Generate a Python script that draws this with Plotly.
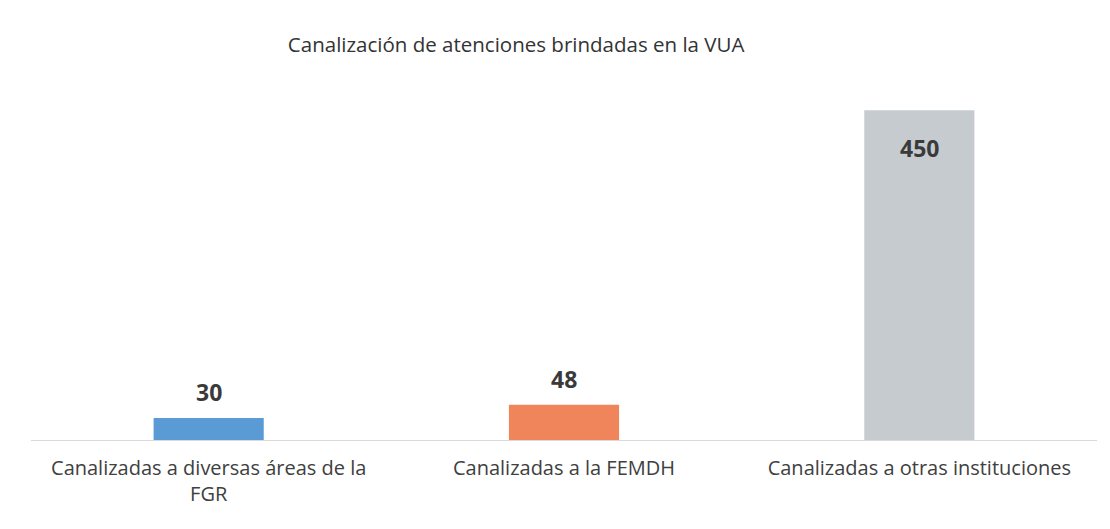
import plotly.graph_objects as go

categories = [
    "Canalizadas a diversas áreas de la<br>FGR",
    "Canalizadas a la FEMDH",
    "Canalizadas a otras instituciones",
]
values = [30, 48, 450]
colors = ["#5b9bd5", "#f0845a", "#c6cbd0"]

fig = go.Figure(
    go.Bar(
        x=categories,
        y=values,
        marker=dict(color=colors, line=dict(width=0)),
        width=0.31,
        hoverinfo="x+y",
    )
)

# value labels: above short bars, inside the top of the tallest one
ymax = max(values)
for cat, v in zip(categories, values):
    inside = v > ymax * 0.5
    fig.add_annotation(
        x=cat,
        y=v,
        text=f"<b>{v}</b>",
        showarrow=False,
        yanchor="middle",
        yshift=-38 if inside else 26,
        font=dict(family="Open Sans, Arial", size=23, color="#3a3a3a"),
    )

fig.update_layout(
    width=1110,
    height=529,
    margin=dict(l=31, r=13, t=100, b=89),
    paper_bgcolor="white",
    plot_bgcolor="white",
    showlegend=False,
    title=dict(
        text="Canalización de atenciones brindadas en la VUA",
        x=0.465,
        xanchor="center",
        y=0.915,
        yanchor="middle",
        font=dict(family="Open Sans, Lato", size=20.5, color="#333333"),
    ),
    xaxis=dict(
        showline=True,
        linecolor="#d9d9d9",
        linewidth=1,
        ticks="",
        ticklabelstandoff=10,
        tickfont=dict(family="Open Sans, Arial", size=20, color="#404040"),
        fixedrange=True,
    ),
    yaxis=dict(
        range=[0, 464],
        visible=False,
        showgrid=False,
        zeroline=False,
        fixedrange=True,
    ),
)

fig.write_html("out.html")
